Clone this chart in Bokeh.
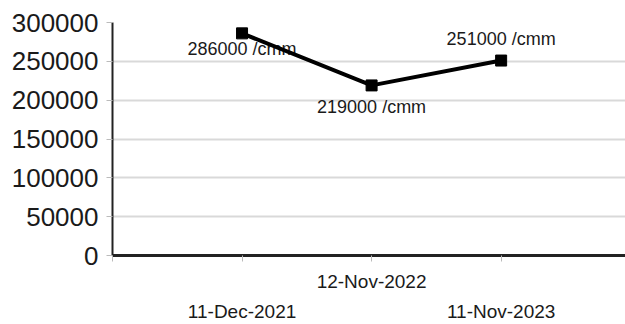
from bokeh.plotting import figure
from bokeh.models import LinearAxis, FixedTicker, ColumnDataSource
from bokeh.embed import file_html
from bokeh.resources import INLINE
from bokeh.core.properties import value

# Platelet counts per test date
dates = ["11-Dec-2021", "12-Nov-2022", "11-Nov-2023"]
counts = [286000, 219000, 251000]
unit = "/cmm"
y_ticks = [0, 50000, 100000, 150000, 200000, 250000, 300000]

xs = [i + 1 for i in range(len(dates))]
labels = [f"{c} {unit}" for c in counts]
label_offsets = [16, 22, -22]  # screen px, positive = downward

FONT = "Liberation Sans"

p = figure(width=625, height=324, output_backend="svg", toolbar_location=None,
           x_range=(0, 3.96), y_range=(0, 300000),
           min_border_left=112, min_border_right=0, min_border_top=22,
           min_border_bottom=69, x_axis_location=None)
p.outline_line_color = None
p.background_fill_color = "white"
p.border_fill_color = "white"
p.xgrid.visible = False
p.ygrid.grid_line_color = "#d9d9d9"
p.ygrid.grid_line_width = 2

# y axis
ya = p.yaxis[0]
ya.ticker = FixedTicker(ticks=y_ticks)
ya.minor_tick_line_color = None
ya.major_tick_in = 0
ya.major_tick_out = 6
ya.major_tick_line_color = "#bbbbbb"
ya.major_tick_line_width = 1
ya.axis_line_color = "#222222"
ya.axis_line_width = 2
ya.major_label_text_font = FONT
ya.major_label_text_font_size = "26px"
ya.major_label_text_color = "#1a1a1a"
ya.major_label_standoff = 8
ya.formatter.use_scientific = False

# bottom axis: ticks and the middle date
xa = LinearAxis(ticker=FixedTicker(ticks=[0, 1, 2, 3, 4]))
xa.major_label_overrides = {0: "", 1: "", 2: dates[1], 3: "", 4: ""}
xa.minor_tick_line_color = None
xa.major_tick_in = 0
xa.major_tick_out = 6
xa.major_tick_line_color = "#bbbbbb"
xa.axis_line_color = "#222222"
xa.axis_line_width = 3
xa.major_label_text_font = FONT
xa.major_label_text_font_size = "19px"
xa.major_label_text_color = "#1a1a1a"
xa.major_label_standoff = 9
p.add_layout(xa, "below")

# second row of staggered date labels
xb = LinearAxis(ticker=FixedTicker(ticks=[1, 3]))
xb.major_label_overrides = {1: dates[0], 3: dates[2]}
xb.axis_line_color = None
xb.major_tick_line_color = None
xb.minor_tick_line_color = None
xb.major_tick_in = 0
xb.major_tick_out = 0
xb.major_label_text_font = FONT
xb.major_label_text_font_size = "19px"
xb.major_label_text_color = "#1a1a1a"
xb.major_label_standoff = 6
p.add_layout(xb, "below")

src = ColumnDataSource(dict(x=xs, y=counts, label=labels, yoff=label_offsets))

p.text(x="x", y="y", text="label", y_offset="yoff", source=src,
       text_align="center", text_baseline="middle",
       text_font=value(FONT), text_font_size="18px", text_color="#1a1a1a")

p.line(x="x", y="y", source=src, line_color="black", line_width=4)
p.scatter(x="x", y="y", source=src, marker="square", size=11,
          fill_color="black", line_color="black")

open("out.html", "w").write(file_html(p, INLINE))
